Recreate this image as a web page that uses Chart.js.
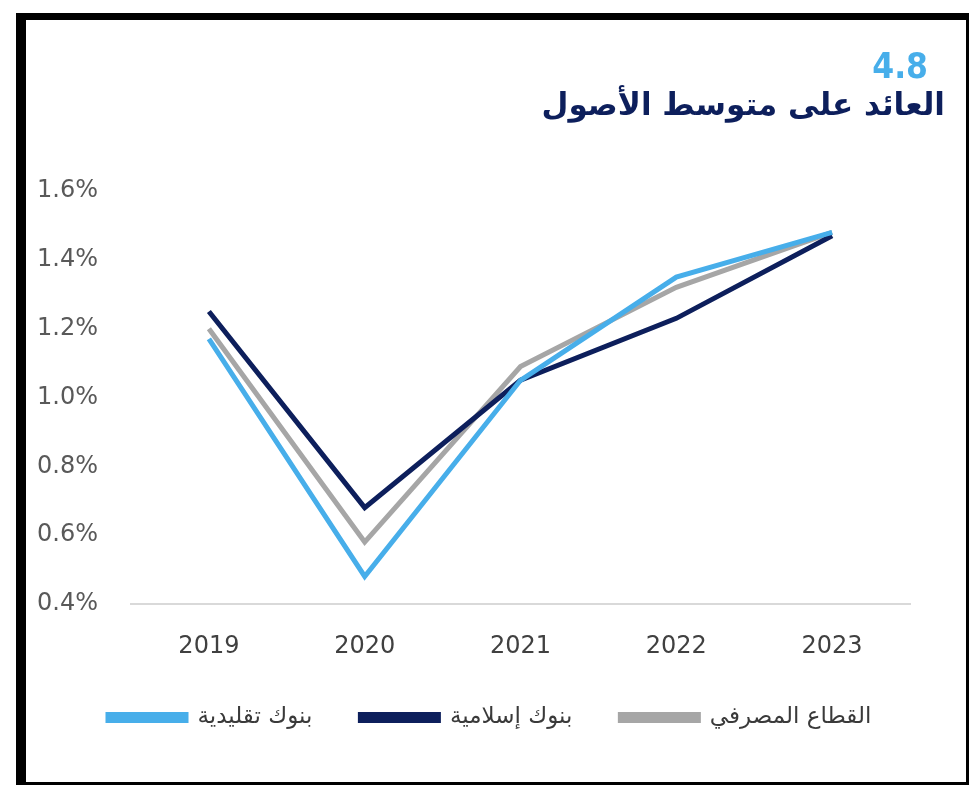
<!DOCTYPE html>
<html lang="ar">
<head>
<meta charset="utf-8">
<title>العائد على متوسط الأصول</title>
<script src="https://cdn.jsdelivr.net/npm/chart.js@4"></script>
<style>
  html, body { margin: 0; padding: 0; background: #fff; overflow: hidden; }
  #wrap { position: relative; width: 971px; height: 786px; }
  #frame {
    position: absolute; left: 16px; top: 13px; width: 940px; height: 762px;
    border-style: solid; border-color: #000;
    border-width: 7px 3px 3px 10px;
    pointer-events: none;
  }
</style>
</head>
<body>
<div id="wrap">
  <canvas id="roa" width="971" height="786"></canvas>
  <div id="frame"></div>
</div>
<script>
// years on the x axis
const years = ['2019', '2020', '2021', '2022', '2023'];

// return on average assets, %
const conventionalBanks = [1.17, 0.48, 1.05, 1.35, 1.48];
const islamicBanks = [1.25, 0.68, 1.05, 1.23, 1.47];
const bankingSector = [1.20, 0.58, 1.09, 1.32, 1.48];

const seriesNames = ['بنوك تقليدية', 'بنوك إسلامية', 'القطاع المصرفي'];

// y axis range and step
const yMin = 0.4;
const yMax = 1.6;
const yStep = 0.2;

const chartNumber = '4.8';
const chartTitle = 'العائد على متوسط الأصول';

const LIGHT_BLUE = '#47aeea';
const NAVY = '#0d1f5c';
const GREY = '#a6a6a6';

const LEGEND_PAD = 48;
const LEGEND_START_X = 108;

// draws the number and the arabic title at the top right
const headerPlugin = {
  id: 'header',
  afterDraw(chart) {
    const { ctx } = chart;
    ctx.save();
    ctx.textBaseline = 'alphabetic';
    ctx.textAlign = 'right';
    ctx.fillStyle = LIGHT_BLUE;
    ctx.font = 'bold 35px "DejaVu Sans Condensed", "DejaVu Sans", sans-serif';
    ctx.fillText(chartNumber, 928, 78);
    ctx.direction = 'rtl';
    ctx.fillStyle = NAVY;
    ctx.font = 'bold 31px "DejaVu Sans", sans-serif';
    ctx.fillText(chartTitle, 945, 115);
    ctx.restore();
  },
};

// nudge the legend row so it starts where the original one does
const legendShift = {
  id: 'legendShift',
  afterLayout(chart) {
    const lg = chart.legend;
    const dx = LEGEND_START_X - LEGEND_PAD - lg.left;
    lg.left += dx;
    lg.right += dx;
  },
};

const line = (label, data, color) => ({
  label,
  data,
  borderColor: color,
  backgroundColor: color,
  borderWidth: 5,
  pointRadius: 0,
  tension: 0,
  fill: false,
});

new Chart(document.getElementById('roa'), {
  type: 'line',
  data: {
    labels: years,
    datasets: [
      line(seriesNames[0], conventionalBanks, LIGHT_BLUE),
      line(seriesNames[1], islamicBanks, NAVY),
      line(seriesNames[2], bankingSector, GREY),
    ],
  },
  options: {
    responsive: false,
    animation: false,
    layout: {
      padding: { top: 191, left: 37, right: 61, bottom: 47 },
    },
    plugins: {
      tooltip: { enabled: false },
      legend: {
        position: 'bottom',
        align: 'start',
        labels: {
          boxWidth: 78,
          boxHeight: 6,
          padding: LEGEND_PAD,
          color: '#3a3a3a',
          font: { family: '"DejaVu Sans", sans-serif', size: 23 },
        },
      },
    },
    scales: {
      x: {
        offset: true,
        grid: { display: false, drawTicks: false },
        border: { color: '#d9d9d9', width: 2 },
        // chart.js counts the tick padding twice; keep only the top one
        afterFit(scale) { scale.height = 54; },
        ticks: {
          padding: 28,
          color: '#404040',
          font: { family: '"DejaVu Sans", sans-serif', size: 24 },
        },
      },
      y: {
        min: yMin,
        max: yMax,
        grid: { display: false, drawTicks: false },
        border: { display: false },
        afterFit(scale) { scale.width = 94; },
        ticks: {
          stepSize: yStep,
          crossAlign: 'far',
          color: '#595959',
          font: { family: '"DejaVu Sans", sans-serif', size: 24 },
          callback: (v) => v.toFixed(1) + '%',
        },
      },
    },
  },
  plugins: [headerPlugin, legendShift],
});
</script>
</body>
</html>
